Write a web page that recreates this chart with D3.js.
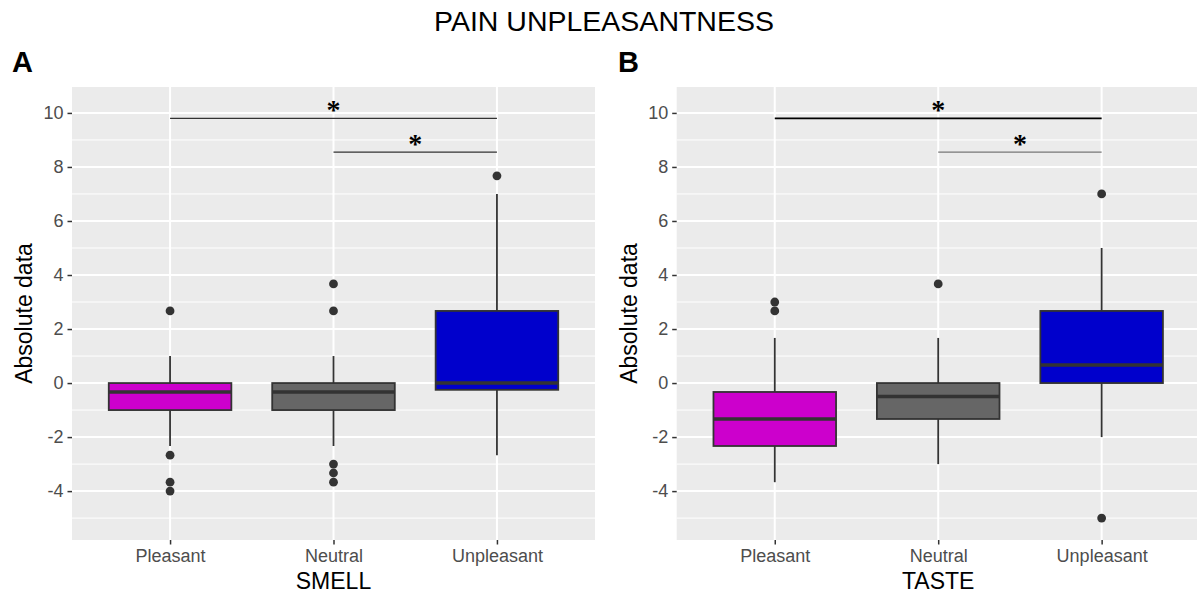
<!DOCTYPE html>
<html>
<head>
<meta charset="utf-8">
<script src="https://cdn.jsdelivr.net/npm/d3@7"></script>
<style>
  html, body { margin: 0; padding: 0; background: #ffffff; overflow: hidden; }
  svg { display: block; font-family: "Liberation Sans", Arial, sans-serif; }
</style>
</head>
<body>
<svg id="chart" width="1197" height="595"></svg>
<script>
// Categories shared by both panels
const categories = ["Pleasant", "Neutral", "Unpleasant"];
const fillColors = ["#CC00CC", "#666666", "#0000CC"];

// SMELL box statistics (per category)
const smellLower   = [-2.33, -2.33, -2.67];
const smellQ1      = [-1, -1, -0.25];
const smellMedian  = [-0.33, -0.33, 0];
const smellQ3      = [0, 0, 2.67];
const smellUpper   = [1, 1, 7];
const smellOutliers = [[2.67, -2.67, -3.67, -4], [3.67, 2.67, -3, -3.33, -3.67], [7.67]];

// TASTE box statistics (per category)
const tasteLower   = [-3.67, -3, -2];
const tasteQ1      = [-2.33, -1.33, 0];
const tasteMedian  = [-1.33, -0.5, 0.67];
const tasteQ3      = [-0.33, 0, 2.67];
const tasteUpper   = [1.67, 1.67, 5];
const tasteOutliers = [[3, 2.67], [3.67], [7, -5]];

// Significance brackets (category index from/to, height, label)
const bracketFrom  = [0, 1];
const bracketTo    = [2, 2];
const bracketY     = [9.8, 8.55];
const bracketLabel = ["*", "*"];

// Axis ticks
const yMajorTicks = [-4, -2, 0, 2, 4, 6, 8, 10];
const yMinorTicks = [-5, -3, -1, 1, 3, 5, 7, 9];
const yDomain = [-5.81, 10.96];

const svg = d3.select("#chart");

svg.append("text")
  .attr("x", 604).attr("y", 31)
  .attr("text-anchor", "middle")
  .attr("font-size", 28.5)
  .attr("fill", "#000")
  .text("PAIN UNPLEASANTNESS");

function drawPanel(opts) {
  const left = opts.left, top = 87, width = 523, height = 453;
  const g = svg.append("g");

  // discrete axis expansion: 0.6 units on each side of 3 categories
  const step = width / 3.2;
  const xScalePoint = d3.scalePoint().domain(categories)
    .range([left + step * 0.6, left + step * 2.6]);
  const y = d3.scaleLinear().domain(yDomain).range([top + height, top]);

  // panel background
  g.append("rect").attr("x", left).attr("y", top)
    .attr("width", width).attr("height", height).attr("fill", "#EBEBEB");

  // grid lines
  g.selectAll(".minor").data(yMinorTicks).join("line")
    .attr("x1", left).attr("x2", left + width)
    .attr("y1", d => y(d)).attr("y2", d => y(d))
    .attr("stroke", "#fff").attr("stroke-width", 1);
  g.selectAll(".major").data(yMajorTicks).join("line")
    .attr("x1", left).attr("x2", left + width)
    .attr("y1", d => y(d)).attr("y2", d => y(d))
    .attr("stroke", "#fff").attr("stroke-width", 2);
  g.selectAll(".vgrid").data(categories).join("line")
    .attr("x1", d => xScalePoint(d)).attr("x2", d => xScalePoint(d))
    .attr("y1", top).attr("y2", top + height)
    .attr("stroke", "#fff").attr("stroke-width", 2);

  // y axis
  const yAxis = d3.axisLeft(y).tickValues(yMajorTicks).tickSize(4.5).tickPadding(4)
    .tickFormat(d => String(d));
  const ya = g.append("g").attr("transform", `translate(${left},0)`).call(yAxis);
  ya.select(".domain").remove();
  ya.selectAll(".tick line").attr("stroke", "#333").attr("stroke-width", 1.5);
  ya.selectAll(".tick text").attr("fill", "#4D4D4D").attr("font-size", 18)
    .attr("font-family", "Liberation Sans, Arial, sans-serif");

  // x axis
  const xAxis = d3.axisBottom(xScalePoint).tickSize(4.5).tickPadding(5);
  const xa = g.append("g").attr("transform", `translate(0,${top + height})`).call(xAxis);
  xa.select(".domain").remove();
  xa.selectAll(".tick line").attr("stroke", "#333").attr("stroke-width", 1.5);
  xa.selectAll(".tick text").attr("fill", "#4D4D4D").attr("font-size", 18)
    .attr("font-family", "Liberation Sans, Arial, sans-serif");

  const boxW = step * 0.75;
  categories.forEach((c, i) => {
    const cx = xScalePoint(c);
    // whiskers
    g.append("line").attr("x1", cx).attr("x2", cx)
      .attr("y1", y(opts.upper[i])).attr("y2", y(opts.q3[i]))
      .attr("stroke", "#333").attr("stroke-width", 1.8);
    g.append("line").attr("x1", cx).attr("x2", cx)
      .attr("y1", y(opts.q1[i])).attr("y2", y(opts.lower[i]))
      .attr("stroke", "#333").attr("stroke-width", 1.8);
    // box
    g.append("rect").attr("x", cx - boxW / 2).attr("y", y(opts.q3[i]))
      .attr("width", boxW).attr("height", y(opts.q1[i]) - y(opts.q3[i]))
      .attr("fill", fillColors[i]).attr("stroke", "#333").attr("stroke-width", 1.8);
    // median
    g.append("line").attr("x1", cx - boxW / 2).attr("x2", cx + boxW / 2)
      .attr("y1", y(opts.median[i])).attr("y2", y(opts.median[i]))
      .attr("stroke", "#333").attr("stroke-width", 3.6);
    // outliers
    g.selectAll(null).data(opts.outliers[i]).join("circle")
      .attr("cx", cx).attr("cy", d => y(d)).attr("r", 4.4).attr("fill", "#333");
  });

  // significance brackets
  bracketY.forEach((v, j) => {
    const x1 = xScalePoint(categories[bracketFrom[j]]);
    const x2 = xScalePoint(categories[bracketTo[j]]);
    g.append("line").attr("x1", x1).attr("x2", x2)
      .attr("y1", y(v)).attr("y2", y(v))
      .attr("stroke", opts.bracketColors[j]).attr("stroke-width", opts.bracketWidths[j]);
    g.append("text").attr("x", (x1 + x2) / 2).attr("y", y(v) + 0.5)
      .attr("text-anchor", "middle").attr("font-size", 28).attr("font-weight", "bold")
      .attr("font-family", "Liberation Serif, serif").attr("fill", "#000")
      .text(bracketLabel[j]);
  });

  // axis titles
  g.append("text").attr("x", left + width / 2).attr("y", 589)
    .attr("text-anchor", "middle").attr("font-size", 23).attr("fill", "#000")
    .text(opts.xTitle);
  g.append("text")
    .attr("transform", `translate(${left - 40},${top + height / 2}) rotate(-90)`)
    .attr("text-anchor", "middle").attr("font-size", 23).attr("fill", "#000")
    .text("Absolute data");

  // panel tag
  g.append("text").attr("x", opts.tagX).attr("y", 71.5)
    .attr("font-size", 29).attr("font-weight", "bold").attr("fill", "#000")
    .text(opts.tag);
}

drawPanel({
  left: 72, tag: "A", tagX: 12, xTitle: "SMELL",
  lower: smellLower, q1: smellQ1, median: smellMedian, q3: smellQ3, upper: smellUpper,
  outliers: smellOutliers,
  bracketColors: ["#333", "#333"], bracketWidths: [1.1, 1.1]
});
drawPanel({
  left: 676.7, tag: "B", tagX: 618, xTitle: "TASTE",
  lower: tasteLower, q1: tasteQ1, median: tasteMedian, q3: tasteQ3, upper: tasteUpper,
  outliers: tasteOutliers,
  bracketColors: ["#000", "#777"], bracketWidths: [1.8, 1.1]
});
</script>
</body>
</html>
